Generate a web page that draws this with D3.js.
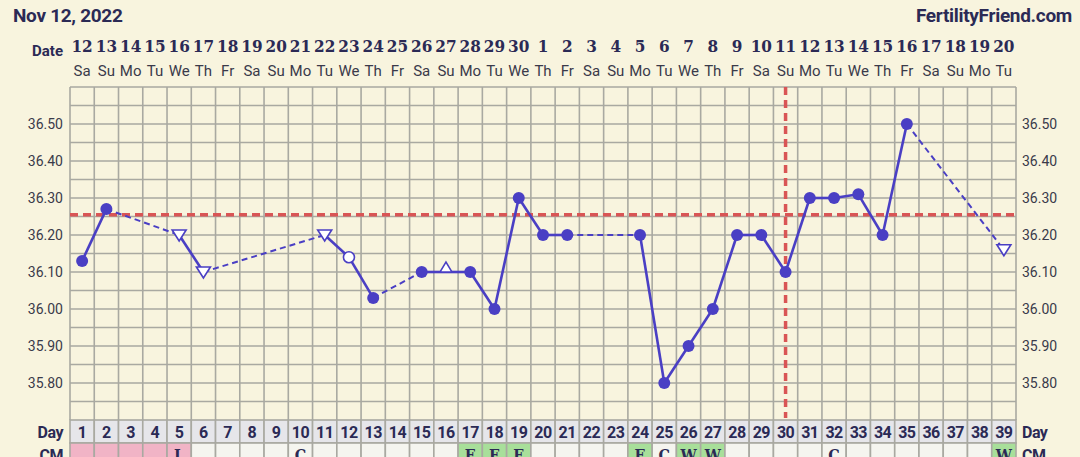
<!DOCTYPE html>
<html>
<head>
<meta charset="utf-8">
<script src="https://cdn.jsdelivr.net/npm/d3@7"></script>
<style>
  html, body { margin: 0; padding: 0; background: #f8f4de; }
  svg { display: block; }
</style>
</head>
<body>
<svg id="chart"></svg>
<script>
const width = 1080;
const height = 457;

// chart data
const cycleDays = d3.range(1, 40);
const dates = [12,13,14,15,16,17,18,19,20,21,22,23,24,25,26,27,28,29,30,1,2,3,4,5,6,7,8,9,10,11,12,13,14,15,16,17,18,19,20];
const weekdays = ["Sa","Su","Mo","Tu","We","Th","Fr","Sa","Su","Mo","Tu","We","Th","Fr","Sa","Su","Mo","Tu","We","Th","Fr","Sa","Su","Mo","Tu","We","Th","Fr","Sa","Su","Mo","Tu","We","Th","Fr","Sa","Su","Mo","Tu"];
const temps = [36.13,36.27,null,null,36.20,36.10,null,null,null,null,36.20,36.14,36.03,null,36.10,36.10,36.10,36.00,36.30,36.20,36.20,null,null,36.20,35.80,35.90,36.00,36.20,36.20,36.10,36.30,36.30,36.31,36.20,36.50,null,null,null,36.16];
// f = filled circle, o = open circle, v = open triangle down, a = open triangle up
const markers = ["f","f",null,null,"v","v",null,null,null,null,"v","o","f",null,"f","a","f","f","f","f","f",null,null,"f","f","f","f","f","f","f","f","f","f","f","f",null,null,null,"v"];
const cmCodes = ["","","","","L","","","","","C","","","","","","","E","E","E","","","","","E","C","W","W","","","","","C","","","","","","","W"];
const cmColors = ["pink","pink","pink","pink","pink","","","","","","","","","","","","green","green","green","","","","","green","","green","green","","","","","","","","","","","","green"];
const yTicks = [35.80,35.90,36.00,36.10,36.20,36.30,36.40,36.50];
const coverline = 36.255;
const ovulationDay = 30;

const plotLeft = 70, plotRight = 1016, plotTop = 87, plotBottom = 420;
const ink = "#2b2a55";
const lineColor = "#4a3fc4";
const gridColor = "#a9a9a1";

let svg = d3.select("#chart").attr("width", width).attr("height", height);

const xScale = d3.scaleBand().domain(cycleDays).range([plotLeft, plotRight]);
const xc = (d) => xScale(d) + xScale.bandwidth() / 2;
const yScale = d3.scaleLinear().domain([35.70, 36.60]).range([plotBottom, plotTop]);

svg.append("rect").attr("width", width).attr("height", height).attr("fill", "#f8f4de");

// header
svg.append("text").attr("x", 13).attr("y", 22).text("Nov 12, 2022")
  .attr("font-family", "Roboto, sans-serif").attr("font-weight", 700)
  .attr("font-size", 19).attr("fill", ink).attr("letter-spacing", -0.3);
svg.append("text").attr("x", 1072).attr("y", 22).attr("text-anchor", "end").text("FertilityFriend.com")
  .attr("font-family", "Roboto, sans-serif").attr("font-weight", 700)
  .attr("font-size", 19).attr("fill", ink).attr("letter-spacing", -0.3);

// date rows
svg.append("text").attr("x", 63).attr("y", 56).attr("text-anchor", "end").text("Date")
  .attr("font-family", "Roboto, sans-serif").attr("font-weight", 700)
  .attr("font-size", 15).attr("fill", ink);
svg.append("g").selectAll("text").data(cycleDays).enter().append("text")
  .attr("x", (d) => xc(d)).attr("y", 52).attr("text-anchor", "middle")
  .text((d, i) => dates[i])
  .attr("font-family", "'DejaVu Serif Condensed', 'Liberation Serif', serif")
  .attr("font-weight", 700).attr("font-size", 17).attr("fill", ink);
svg.append("g").selectAll("text").data(cycleDays).enter().append("text")
  .attr("x", (d) => xc(d)).attr("y", 76).attr("text-anchor", "middle")
  .text((d, i) => weekdays[i])
  .attr("font-family", "Roboto, sans-serif").attr("font-size", 15).attr("fill", "#3a3a4a");

// grid
const grid = svg.append("g").attr("stroke", gridColor).attr("stroke-width", 1.6);
grid.selectAll("line.v").data(d3.range(0, 40)).enter().append("line")
  .attr("x1", (i) => plotLeft + i * xScale.step()).attr("x2", (i) => plotLeft + i * xScale.step())
  .attr("y1", plotTop).attr("y2", plotBottom);
const hLines = d3.range(0, 18).map((i) => 35.75 + i * 0.05);
grid.selectAll("line.h").data(hLines).enter().append("line")
  .attr("x1", plotLeft).attr("x2", plotRight)
  .attr("y1", (d) => yScale(d)).attr("y2", (d) => yScale(d));

// y axis labels both sides
const yAxisL = d3.axisLeft(yScale).tickValues(yTicks).tickFormat(d3.format(".2f")).tickSize(0).tickPadding(7);
const yAxisR = d3.axisRight(yScale).tickValues(yTicks).tickFormat(d3.format(".2f")).tickSize(0).tickPadding(6);
[svg.append("g").attr("transform", `translate(${plotLeft},0)`).call(yAxisL),
 svg.append("g").attr("transform", `translate(${plotRight},0)`).call(yAxisR)].forEach((g) => {
  g.select(".domain").remove();
  g.selectAll("text").attr("font-family", "Roboto, sans-serif").attr("font-size", 14).attr("fill", "#3a3a4a");
});

// coverline & ovulation line
svg.append("line").attr("x1", plotLeft).attr("x2", plotRight)
  .attr("y1", yScale(coverline)).attr("y2", yScale(coverline))
  .attr("stroke", "#d95555").attr("stroke-width", 3.5).attr("stroke-dasharray", "8,5");
svg.append("line").attr("x1", xc(ovulationDay)).attr("x2", xc(ovulationDay))
  .attr("y1", plotTop).attr("y2", 418)
  .attr("stroke", "#d95555").attr("stroke-width", 3.5).attr("stroke-dasharray", "8,5");

// temperature line segments
const pts = cycleDays.map((d, i) => ({ day: d, t: temps[i], m: markers[i] })).filter((p) => p.t !== null);
const segs = d3.pairs(pts);
svg.append("g").selectAll("line").data(segs).enter().append("line")
  .attr("x1", (s) => xc(s[0].day)).attr("y1", (s) => yScale(s[0].t))
  .attr("x2", (s) => xc(s[1].day)).attr("y2", (s) => yScale(s[1].t))
  .attr("stroke", lineColor)
  .attr("stroke-width", (s) => (s[1].day - s[0].day > 1 ? 2 : 2.6))
  .attr("stroke-dasharray", (s) => (s[1].day - s[0].day > 1 ? "6,4" : null));

// markers
const mk = svg.append("g");
pts.forEach((p) => {
  const x = xc(p.day), y = yScale(p.t);
  if (p.m === "f") {
    mk.append("circle").attr("cx", x).attr("cy", y).attr("r", 6).attr("fill", lineColor);
  } else if (p.m === "o") {
    mk.append("circle").attr("cx", x).attr("cy", y).attr("r", 5.5)
      .attr("fill", "#fff").attr("stroke", lineColor).attr("stroke-width", 1.6);
  } else if (p.m === "v") {
    mk.append("path").attr("d", `M${x - 7},${y - 5}L${x + 7},${y - 5}L${x},${y + 6}Z`)
      .attr("fill", "#fff").attr("stroke", lineColor).attr("stroke-width", 1.6);
  } else if (p.m === "a") {
    mk.append("path").attr("d", `M${x - 6},${y}L${x + 6},${y}L${x},${y - 10}Z`)
      .attr("fill", "#fff").attr("stroke", lineColor).attr("stroke-width", 1.5);
  }
});

// Day row
const dayRow = svg.append("g");
dayRow.selectAll("rect").data(cycleDays).enter().append("rect")
  .attr("x", (d) => xScale(d)).attr("y", 420).attr("width", xScale.step()).attr("height", 23)
  .attr("fill", "#e6e6ea").attr("stroke", gridColor).attr("stroke-width", 1.6);
dayRow.selectAll("text").data(cycleDays).enter().append("text")
  .attr("x", (d) => xc(d)).attr("y", 438).attr("text-anchor", "middle").text((d) => d)
  .attr("font-family", "Roboto, sans-serif").attr("font-weight", 700)
  .attr("font-size", 16).attr("fill", ink).attr("letter-spacing", -0.5);

// CM row (cut off at the bottom edge, as in the original screenshot)
const cmFill = { pink: "#f1b4c6", green: "#a8df9a", "": "#f5f5ef" };
const cmRow = svg.append("g");
cmRow.selectAll("rect").data(cycleDays).enter().append("rect")
  .attr("x", (d) => xScale(d)).attr("y", 443).attr("width", xScale.step()).attr("height", 23)
  .attr("fill", (d, i) => cmFill[cmColors[i]]).attr("stroke", gridColor).attr("stroke-width", 1.6);
cmRow.selectAll("text").data(cycleDays).enter().append("text")
  .attr("x", (d) => xc(d)).attr("y", 461).attr("text-anchor", "middle").text((d, i) => cmCodes[i])
  .attr("font-family", "'DejaVu Serif Condensed', 'Liberation Serif', serif").attr("font-weight", 700)
  .attr("font-size", 16).attr("fill", ink);

// row labels
[["Day", 438], ["CM", 461]].forEach(([lbl, y]) => {
  svg.append("text").attr("x", 63).attr("y", y).attr("text-anchor", "end").text(lbl)
    .attr("font-family", "Roboto, sans-serif").attr("font-weight", 700)
    .attr("font-size", 16).attr("fill", ink).attr("letter-spacing", -0.5);
  svg.append("text").attr("x", 1022).attr("y", y).text(lbl)
    .attr("font-family", "Roboto, sans-serif").attr("font-weight", 700)
    .attr("font-size", 16).attr("fill", ink).attr("letter-spacing", -0.5);
});
</script>
</body>
</html>
